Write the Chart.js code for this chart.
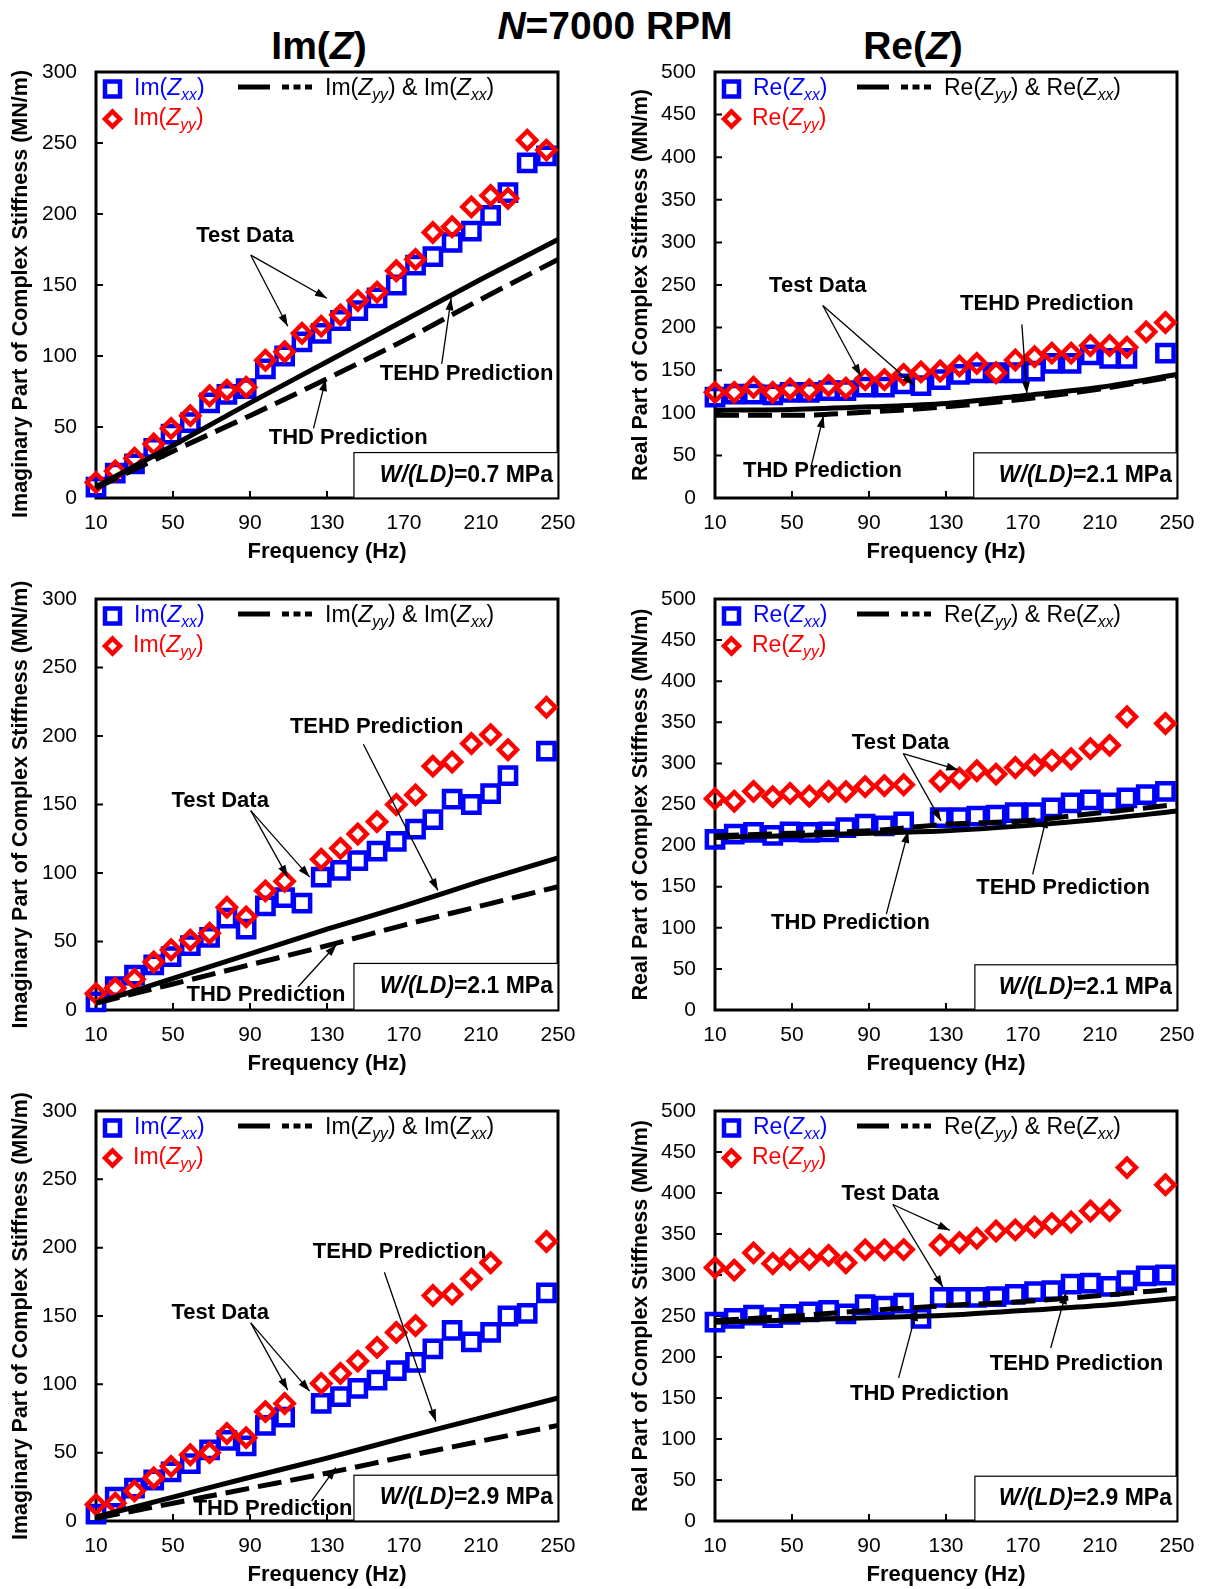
<!DOCTYPE html>
<html>
<head>
<meta charset="utf-8">
<script src="https://cdn.jsdelivr.net/npm/chart.js@4.4.0/dist/chart.umd.min.js"></script>
<style>
body { margin: 0; background: #fff; width: 1205px; height: 1589px; position: relative; font-family: "Liberation Sans", Arial, sans-serif; overflow: hidden; }
.head { position: absolute; font-weight: bold; font-size: 39px; line-height: 39px; text-align: center; width: 400px; color: #000; }
canvas { position: absolute; }
</style>
</head>
<body>
<div class="head" style="left:415px; top:6px;"><i>N</i>=7000 RPM</div>
<div class="head" style="left:119px; top:26px;">Im(<i>Z</i>)</div>
<div class="head" style="left:713px; top:26px;">Re(<i>Z</i>)</div>

<canvas id="c1" width="586" height="516" style="left:0px; top:52px;"></canvas>
<canvas id="c2" width="585" height="516" style="left:620px; top:52px;"></canvas>
<canvas id="c3" width="586" height="501" style="left:0px; top:579px;"></canvas>
<canvas id="c4" width="585" height="501" style="left:620px; top:579px;"></canvas>
<canvas id="c5" width="586" height="500" style="left:0px; top:1091px;"></canvas>
<canvas id="c6" width="585" height="500" style="left:620px; top:1091px;"></canvas>

<script>
// test frequencies (Hz)
var freq = [10, 20, 30, 40, 49, 59, 69, 78, 88, 98, 108, 117, 127, 137, 146, 156, 166, 176, 185, 195, 205, 215, 224, 234, 244];
// frequencies where the prediction curves were read
var predFreq = [10, 50, 90, 130, 170, 210, 250];
var xTicks = [10, 50, 90, 130, 170, 210, 250];
var imTicks = [0, 50, 100, 150, 200, 250, 300];
var reTicks = [0, 50, 100, 150, 200, 250, 300, 350, 400, 450, 500];

// Im(Z), W/(LD)=0.7 MPa
var im07xx = [7.6, 17.6, 24, 35, 45, 53, 67, 73, 77, 91, 100, 110, 116, 125, 132, 141, 150, 164, 170, 180, 188, 199, 215, 236, 241];
var im07yy = [11, 19, 28, 38, 49, 58, 72, 76, 78, 97, 103, 116, 121, 129, 139, 145, 160, 168, 187, 191, 205, 213, 211, 252, 245];
var im07solid = [8, 37, 67, 96, 125, 154, 182];
var im07dash = [7, 33, 58, 84, 111, 140, 168];

// Re(Z), top row, W/(LD)=2.1 MPa
var reTopxx = [118.5, 122, 122, 121, 124, 124, 126, 126, 130, 130, 134, 132, 139, 145, 147, 147, 147, 149, 158, 158, 168, 164, 164, null, 170];
var reTopyy = [124, 124, 130, 124, 128, 127, 132, 129, 139, 139, 145, 148, 149, 155, 158, 147, 162, 166, 170, 170, 179, 179, 177, 195, 206];
var reTopsolid = [103, 104, 107, 111, 120, 130, 145];
var reTopdash = [97, 97, 101, 107, 116, 128, 143];

// Im(Z), W/(LD)=2.1 MPa
var im21xx = [6, 17, 25.5, 33, 39, 47, 53, 67, 59, 76, 82, 78, 97, 102, 109, 116, 123, 132, 139, 154, 150, 158, 171, null, 189];
var im21yy = [12, 16, 22.5, 35, 44, 51, 56, 75, 68, 87, 94, null, 110, 118, 128.5, 137.5, 150, 157, 178, 181, 194.5, 201, 190, null, 221];
var im21solid = [5, 23, 41, 59, 76, 94, 111];
var im21dash = [5, 19, 33, 47, 62, 76, 90];

// Re(Z), W/(LD)=2.1 MPa
var re21xx = [207.7, 214, 216, 212.5, 216.6, 216, 216.6, 222, 226, 224, 229, null, 234, 234, 236, 237, 240, 240, 246, 252, 255.5, 252, 258, 262, 266];
var re21yy = [257, 254, 266, 259.5, 263.5, 260, 266, 265.6, 271.7, 273, 274, null, 278.5, 282, 291, 287, 295, 298, 303.6, 305.7, 318, 322, 356.7, null, 348.6];
var re21solid = [210, 212, 215, 218, 224, 232, 242];
var re21dash = [212, 215, 218, 226, 230, 240, 250];

// Im(Z), W/(LD)=2.9 MPa
var im29xx = [5, 17.5, 24, 30, 36, 42, 52, 59, 55, 70, 76, null, 86, 91, 97, 103, 110, 116, 126, 139.5, 131, 138, 150, 152, 167];
var im29yy = [12, 13, 22, 31.5, 40, 48.5, 50, 64, 61, 80, 86, null, 100.7, 108, 117, 127, 138, 143, 165, 166, 177, 189, null, null, 204.5];
var im29solid = [3, 17.5, 32, 46, 61, 75.5, 90];
var im29dash = [2, 13, 24, 35, 47, 58.5, 70];

// Re(Z), W/(LD)=2.9 MPa
var re29xx = [242.5, 247, 251, 248, 252, 255, 257, 252.6, 264, 262, 265.6, 247, 272.8, 272.8, 272.8, 273.6, 276.5, 279.7, 281, 289, 290, 286, 293, 299, 300];
var re29yy = [309, 306, 327, 314, 319, 319, 324, 315, 330.6, 330.6, 331, null, 336.7, 339.5, 344.8, 353.7, 355, 358.5, 362.6, 364.6, 378, 378.7, 431, null, 410];
var re29solid = [242.5, 245, 248, 251, 256.7, 262.7, 271.6];
var re29dash = [244.5, 250, 256.7, 262.7, 267.6, 275, 283];

var FONT = '"Liberation Sans", Arial, sans-serif';
Chart.defaults.font.family = FONT;
Chart.defaults.color = '#000';

function pares(xs, ys) {
    var out = [];
    for (var i = 0; i < xs.length; i++) {
        if (ys[i] !== null) out.push({x: xs[i], y: ys[i]});
    }
    return out;
}

// texto con cursiva / subindices: partes = [[texto, 'i' | 's' | 'is' | '']]
function texto(ctx, partes, x, y, size, bold, color, align) {
    function fuente(f) {
        var sz = f.indexOf('s') >= 0 ? size * 0.68 : size;
        return (f.indexOf('i') >= 0 ? 'italic ' : '') + (bold ? 'bold ' : '') + sz + 'px ' + FONT;
    }
    var ancho = 0;
    partes.forEach(function(p) { ctx.font = fuente(p[1]); ancho += ctx.measureText(p[0]).width; });
    var cx = align === 'right' ? x - ancho : (align === 'center' ? x - ancho / 2 : x);
    ctx.fillStyle = color;
    ctx.textBaseline = 'middle';
    ctx.textAlign = 'left';
    partes.forEach(function(p) {
        ctx.font = fuente(p[1]);
        var dy = p[1].indexOf('s') >= 0 ? size * 0.3 : 0;
        ctx.fillText(p[0], cx, y + dy);
        cx += ctx.measureText(p[0]).width;
    });
}

function flecha(ctx, x1, y1, x2, y2) {
    ctx.beginPath();
    ctx.moveTo(x1, y1);
    ctx.lineTo(x2, y2);
    ctx.lineWidth = 1.3;
    ctx.strokeStyle = '#000';
    ctx.stroke();
    var a = Math.atan2(y2 - y1, x2 - x1), L = 12, W = 4;
    ctx.beginPath();
    ctx.moveTo(x2, y2);
    ctx.lineTo(x2 - L * Math.cos(a) + W * Math.sin(a), y2 - L * Math.sin(a) - W * Math.cos(a));
    ctx.lineTo(x2 - L * Math.cos(a) - W * Math.sin(a), y2 - L * Math.sin(a) + W * Math.cos(a));
    ctx.closePath();
    ctx.fillStyle = '#000';
    ctx.fill();
}

function hacerDecor(p) {
    return {
        id: 'decor',
        beforeDatasetsDraw: function(chart) {
            var ctx = chart.ctx, a = chart.chartArea, x = chart.scales.x, y = chart.scales.y;
            ctx.save();
            ctx.strokeStyle = '#000';
            ctx.lineWidth = 2;
            ctx.beginPath();
            x.ticks.forEach(function(t) {
                var px = x.getPixelForValue(t.value);
                ctx.moveTo(px, a.bottom); ctx.lineTo(px, a.bottom - 7);
            });
            y.ticks.forEach(function(t) {
                var py = y.getPixelForValue(t.value);
                ctx.moveTo(a.left, py); ctx.lineTo(a.left + 7, py);
            });
            ctx.stroke();
            ctx.lineWidth = 3;
            ctx.strokeRect(a.left, a.top, a.right - a.left, a.bottom - a.top);
            ctx.restore();
        },
        afterDatasetsDraw: function(chart) {
            var ctx = chart.ctx, a = chart.chartArea, x = chart.scales.x, y = chart.scales.y;
            var X = function(v) { return x.getPixelForValue(v); };
            var Y = function(v) { return y.getPixelForValue(v); };
            ctx.save();

            // caja de carga
            var bx = X(p.caja[0]), by = Y(p.caja[1]);
            ctx.fillStyle = '#fff';
            ctx.fillRect(bx, by, a.right - bx, a.bottom - by);
            ctx.lineWidth = 1.2;
            ctx.strokeStyle = '#000';
            ctx.strokeRect(bx, by, a.right - bx, a.bottom - by);
            texto(ctx, [['W/(', 'i'], ['LD', 'i'], [')', 'i'], ['=' + p.carga + ' MPa', '']],
                a.right - 5, (by + a.bottom) / 2, 23, true, '#000', 'right');

            // leyenda
            var L = a.left, T = a.top;
            ctx.lineWidth = 4.5;
            ctx.strokeStyle = '#0000ff';
            ctx.strokeRect(L + 9, T + 9.5, 15, 15);
            texto(ctx, [[p.tipo + '(', ''], ['Z', 'i'], ['xx', 'is'], [')', '']], L + 38, T + 17, 23, false, '#0000ff', 'left');
            ctx.strokeStyle = '#ff0000';
            ctx.beginPath();
            ctx.moveTo(L + 16.5, T + 39.5); ctx.lineTo(L + 24, T + 47); ctx.lineTo(L + 16.5, T + 54.5); ctx.lineTo(L + 9, T + 47);
            ctx.closePath();
            ctx.stroke();
            texto(ctx, [[p.tipo + '(', ''], ['Z', 'i'], ['yy', 'is'], [')', '']], L + 37, T + 47, 23, false, '#ff0000', 'left');
            ctx.strokeStyle = '#000';
            ctx.lineWidth = 5;
            ctx.beginPath(); ctx.moveTo(L + 142, T + 15); ctx.lineTo(L + 174, T + 15); ctx.stroke();
            ctx.setLineDash([7, 4.5]);
            ctx.beginPath(); ctx.moveTo(L + 186, T + 15); ctx.lineTo(L + 216, T + 15); ctx.stroke();
            ctx.setLineDash([]);
            texto(ctx, [[p.tipo + '(', ''], ['Z', 'i'], ['yy', 'is'], [') & ' + p.tipo + '(', ''], ['Z', 'i'], ['xx', 'is'], [')', '']],
                L + 229, T + 17, 23, false, '#000', 'left');

            // anotaciones
            p.notas.forEach(function(n) {
                ctx.font = 'bold 22px ' + FONT;
                ctx.fillStyle = '#000';
                ctx.textAlign = 'center';
                ctx.textBaseline = 'middle';
                ctx.fillText(n.t, X(n.at[0]), Y(n.at[1]));
                n.fl.forEach(function(h) {
                    flecha(ctx, X(n.desde[0]), Y(n.desde[1]), X(h[0]), Y(h[1]));
                });
            });
            ctx.restore();
        }
    };
}

function graficar(p) {
    var yTicks = p.tipo === 'Im' ? imTicks : reTicks;
    var datasets = [
        {data: pares(predFreq, p.solid), showLine: true, borderColor: '#000', borderWidth: 5, pointRadius: 0,
         cubicInterpolationMode: 'monotone', clip: false, order: 0},
        {data: pares(predFreq, p.dash), showLine: true, borderColor: '#000', borderWidth: 5, borderDash: [24, 9], pointRadius: 0,
         cubicInterpolationMode: 'monotone', clip: false, order: 1},
        {data: pares(freq, p.yy), pointStyle: 'rectRot', pointRadius: 9, pointBorderWidth: 4.5,
         pointBorderColor: '#ff0000', pointBackgroundColor: 'rgba(0,0,0,0)', clip: false, order: 2},
        {data: pares(freq, p.xx), pointStyle: 'rect', pointRadius: 11.5, pointBorderWidth: 4.5,
         pointBorderColor: '#0000ff', pointBackgroundColor: 'rgba(0,0,0,0)', clip: false, order: 3}
    ];
    var options = {
        responsive: false,
        animation: false,
        events: [],
        layout: {padding: {top: 20, right: 28, left: 0, bottom: 0}},
        plugins: {legend: {display: false}, tooltip: {enabled: false}},
        scales: {
            x: {
                type: 'linear', min: 10, max: 250,
                afterBuildTicks: function(s) { s.ticks = xTicks.map(function(v) { return {value: v}; }); },
                afterFit: function(s) { s.height = 70; s.paddingLeft = 0; s.paddingRight = 0; },
                grid: {display: false, drawTicks: false},
                border: {display: false},
                ticks: {font: {size: 21}, padding: 13, maxRotation: 0},
                title: {display: true, text: 'Frequency (Hz)', font: {size: 22, weight: 'bold'}, padding: {top: 0, bottom: 3}}
            },
            y: {
                type: 'linear', min: 0, max: yTicks[yTicks.length - 1],
                afterBuildTicks: function(s) { s.ticks = yTicks.map(function(v) { return {value: v}; }); },
                afterFit: function(s) { s.width = p.padL; s.paddingTop = 0; s.paddingBottom = 0; },
                grid: {display: false, drawTicks: false},
                border: {display: false},
                ticks: {font: {size: 21}, padding: 19},
                title: {display: true, text: p.tituloY, font: {size: 21.5, weight: 'bold'}, padding: {top: 8, bottom: 0}}
            }
        }
    };
    new Chart(document.getElementById(p.id), {type: 'scatter', data: {datasets: datasets}, options: options, plugins: [hacerDecor(p)]});
}

var tituloIm = 'Imaginary Part of Complex Stiffness (MN/m)';
var tituloRe = 'Real Part of Complex Stiffness (MN/m)';

graficar({id: 'c1', tipo: 'Im', padL: 96, tituloY: tituloIm + '\u00a0\u00a0\u00a0', xx: im07xx, yy: im07yy, solid: im07solid, dash: im07dash,
    carga: '0.7', caja: [144, 32],
    notas: [
        {t: 'Test Data', at: [87.4, 184.5], desde: [90.4, 171], fl: [[109.6, 121], [130, 140.7]]},
        {t: 'TEHD Prediction', at: [202.5, 87.5], desde: [189.6, 94.5], fl: [[194.5, 140.7]]},
        {t: 'THD Prediction', at: [141, 42.3], desde: [123, 49], fl: [[129.4, 83.7]]}
    ]});

graficar({id: 'c2', tipo: 'Re', padL: 95, tituloY: tituloRe, xx: reTopxx, yy: reTopyy, solid: reTopsolid, dash: reTopdash,
    carga: '2.1', caja: [144.4, 53],
    notas: [
        {t: 'Test Data', at: [63.4, 248.7], desde: [66, 226], fl: [[85.8, 142.9], [113.4, 132.4]]},
        {t: 'TEHD Prediction', at: [182.4, 227.7], desde: [169.4, 203.8], fl: [[172, 122.7]]},
        {t: 'THD Prediction', at: [65.8, 31.5], desde: [60, 37.8], fl: [[66.4, 96.6]]}
    ]});

graficar({id: 'c3', tipo: 'Im', padL: 96, tituloY: tituloIm, xx: im21xx, yy: im21yy, solid: im21solid, dash: im21dash,
    carga: '2.1', caja: [144, 34],
    notas: [
        {t: 'TEHD Prediction', at: [155.8, 206.6], desde: [148.9, 194], fl: [[187.6, 87.3]]},
        {t: 'Test Data', at: [74.5, 152.8], desde: [90.4, 145.5], fl: [[109.6, 97], [121, 97]]},
        {t: 'THD Prediction', at: [98.3, 10.9], desde: [115, 17], fl: [[135, 47.8]]}
    ]});

graficar({id: 'c4', tipo: 'Re', padL: 95, tituloY: tituloRe, xx: re21xx, yy: re21yy, solid: re21solid, dash: re21dash,
    carga: '2.1', caja: [145, 55],
    notas: [
        {t: 'Test Data', at: [106.4, 325], desde: [107.8, 312], fl: [[127.4, 230], [136.4, 292]]},
        {t: 'TEHD Prediction', at: [190.8, 149], desde: [175, 165], fl: [[182.4, 236]]},
        {t: 'THD Prediction', at: [80.4, 106.5], desde: [99, 116.6], fl: [[110.4, 217.8]]}
    ]});

graficar({id: 'c5', tipo: 'Im', padL: 96, tituloY: tituloIm, xx: im29xx, yy: im29yy, solid: im29solid, dash: im29dash,
    carga: '2.9', caja: [144, 33.5],
    notas: [
        {t: 'TEHD Prediction', at: [167.7, 197], desde: [159.8, 182], fl: [[186.6, 72.8]]},
        {t: 'Test Data', at: [74.5, 152], desde: [90.4, 145], fl: [[109.6, 95.8], [121, 95]]},
        {t: 'THD Prediction', at: [102, 8.5], desde: [122, 14.5], fl: [[134.6, 39]]}
    ]});

graficar({id: 'c6', tipo: 'Re', padL: 95, tituloY: tituloRe, xx: re29xx, yy: re29yy, solid: re29solid, dash: re29dash,
    carga: '2.9', caja: [145, 54.6],
    notas: [
        {t: 'Test Data', at: [101, 399], desde: [102.4, 386], fl: [[128.4, 285], [132, 354.5]]},
        {t: 'TEHD Prediction', at: [197.8, 192], desde: [184.4, 211], fl: [[192.4, 279]]},
        {t: 'THD Prediction', at: [121.4, 154.4], desde: [105.4, 174.6], fl: [[115, 258.7]]}
    ]});
</script>
</body>
</html>
